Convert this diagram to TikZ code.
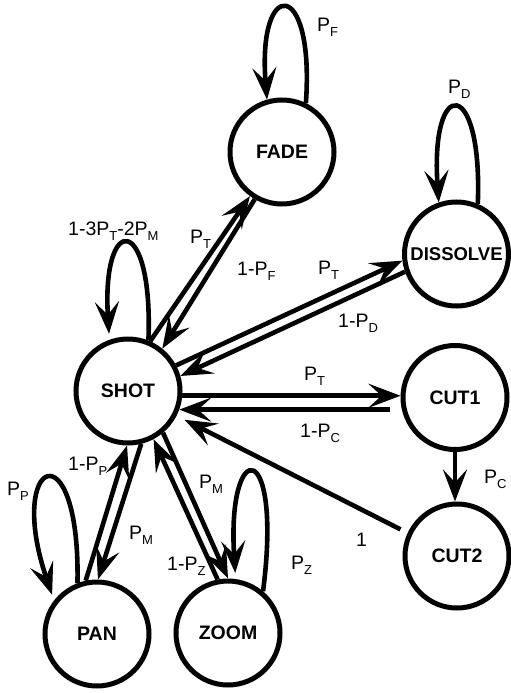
\documentclass[tikz,border=0pt]{standalone}
\usepackage{fontspec}
\setmainfont{Liberation Sans}
\usetikzlibrary{arrows.meta}
\newcommand{\sbx}[1]{\raisebox{-5pt}{\fontsize{13}{13}\selectfont #1}}
\begin{document}
\begin{tikzpicture}[x=1pt,y=-1pt,
  state/.style={circle,draw,line width=5pt,minimum size=104pt,inner sep=0pt,font=\fontsize{19.5}{20}\selectfont\bfseries},
  edge/.style={line width=4.6pt,-{Stealth[length=32pt,width=24pt,inset=13pt]}},
  lbl/.style={anchor=base west,inner sep=0pt,font=\fontsize{19.5}{20}\selectfont}]
\useasboundingbox (0,0) rectangle (511,693);
% states
\node[state] (FADE) at (282,152) {FADE};
\node[state,font=\fontsize{18.5}{19}\selectfont\bfseries] (DISSOLVE) at (456.5,254) {DISSOLVE};
\node[state] (SHOT) at (128,391) {SHOT};
\node[state] (CUT1) at (455,397.5) {CUT1};
\node[state] (CUT2) at (457,556) {CUT2};
\node[state] (PAN) at (97,634) {PAN};
\node[state] (ZOOM) at (228,633) {ZOOM};
% edges
\draw[edge] (SHOT.66) -- (FADE.234);
\draw[edge] (FADE.240) -- (SHOT.51);
\draw[edge] (SHOT.28) -- (DISSOLVE.187);
\draw[edge] (DISSOLVE.199) -- (SHOT.16);
\draw[edge] (SHOT.-5) -- (SHOT.-5 -| CUT1.west);
\draw[edge,shorten <=11pt] (CUT1.west |- SHOT.-20) -- (SHOT.-20);
\draw[edge,shorten <=8pt,shorten >=9pt] (CUT2.155) -- (SHOT.-27);
\draw[edge] (CUT1.south) -- (CUT1.south |- CUT2.north);
\draw[edge] (PAN.102) -- (SHOT.269);
\draw[edge] (SHOT.284) -- (PAN.89);
\draw[edge] (SHOT.310) -- (ZOOM.90);
\draw[edge] (ZOOM.101) -- (SHOT.298);
% self loops
\draw[edge] (FADE.64) .. controls +(9,-126) and +(-10,-123) .. (FADE.106);
\draw[edge] (DISSOLVE.67) .. controls +(5,-128) and +(-9,-127) .. (DISSOLVE.109);
\draw[edge,shorten >=6pt] (SHOT.68) .. controls +(5,-128) and +(-8,-128) .. (SHOT.110);
\draw[edge,shorten >=6pt] (PAN.111) .. controls +(3,-158) and +(-49,-143) .. (PAN.142);
\draw[edge,shorten >=6pt] (ZOOM.50) .. controls +(20,-155) and +(-9,-143) .. (ZOOM.82);
% labels
\node[lbl] (lPF) at (317,32) {P\sbx{F}};
\node[lbl] (lPD) at (448,93) {P\sbx{D}};
\node[lbl] (lPS) at (68,235) {1-3P\sbx{T}-2P\sbx{M}};
\node[lbl] (lPT1) at (190,243) {P\sbx{T}};
\node[lbl] (lQF) at (237,275) {1-P\sbx{F}};
\node[lbl] (lPT2) at (318,274) {P\sbx{T}};
\node[lbl] (lQD) at (338,327) {1-P\sbx{D}};
\node[lbl] (lPT3) at (304,380) {P\sbx{T}};
\node[lbl] (lQC) at (300,437) {1-P\sbx{C}};
\node[lbl] (lPC) at (484,483) {P\sbx{C}};
\node[lbl] (lOne) at (356,546) {1};
\node[lbl] (lQP) at (68,470) {1-P\sbx{P}};
\node[lbl] (lPP) at (7,495) {P\sbx{P}};
\node[lbl] (lPM1) at (129,539) {P\sbx{M}};
\node[lbl] (lPM2) at (199,488) {P\sbx{M}};
\node[lbl] (lQZ) at (167,570) {1-P\sbx{Z}};
\node[lbl] (lPZ) at (291,569) {P\sbx{Z}};
\end{tikzpicture}
\end{document}
